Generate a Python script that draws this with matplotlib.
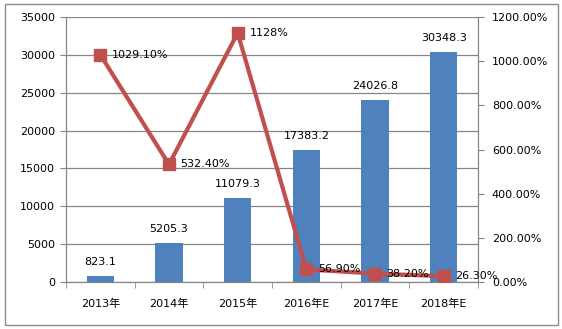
import numpy as np
import matplotlib.pyplot as plt
from matplotlib.patches import Rectangle
from matplotlib.ticker import FuncFormatter

plt.rcParams['font.family'] = ['DejaVu Sans', 'Noto Sans CJK SC']

years = ['2013年', '2014年', '2015年', '2016年E', '2017年E', '2018年E']
scale = [823.1, 5205.3, 11079.3, 17383.2, 24026.8, 30348.3]
growth = [1029.10, 532.40, 1128, 56.90, 38.20, 26.30]
growth_labels = ['1029.10%', '532.40%', '1128%', '56.90%', '38.20%', '26.30%']

bar_color = '#4F81BD'
line_color = '#C0504D'
grid_color = '#868686'


def plot_chart():
    fig = plt.figure(figsize=(5.62, 3.29), dpi=100)
    ax = fig.add_axes([66 / 562, 1 - 282 / 329, (478 - 66) / 562, (282 - 17) / 329])

    # outer frame around the whole chart
    fig.patches.append(Rectangle((5 / 562, 4 / 329), 553 / 562, 321 / 329,
                                 transform=fig.transFigure, fill=False,
                                 edgecolor='#8c8c8c', linewidth=1.0))

    x = np.arange(len(years))
    ax.bar(x, scale, width=0.4, color=bar_color, zorder=2)
    for xi, v in zip(x, scale):
        ax.text(xi, v + 1200, f'{v:g}', ha='center', va='bottom', fontsize=8)

    ax.set_xlim(-0.5, len(years) - 0.5)
    ax.set_ylim(0, 35000)
    ax.set_yticks(np.arange(0, 35001, 5000))
    ax.yaxis.grid(True, color=grid_color, linewidth=0.9, zorder=0)
    ax.set_axisbelow(True)
    ax.set_xticks(x)
    ax.set_xticklabels(years, fontsize=8)
    ax.set_xticks(np.arange(-0.5, len(years), 1), minor=True)
    ax.tick_params(axis='x', which='major', length=0, pad=12)
    ax.tick_params(axis='x', which='minor', length=4, color=grid_color)
    ax.tick_params(axis='y', labelsize=8, length=4, color=grid_color, pad=4)
    for side in ['top']:
        ax.spines[side].set_visible(False)
    for side in ['left', 'bottom', 'right']:
        ax.spines[side].set_color(grid_color)

    ax2 = ax.twinx()
    ax2.plot(x, growth, color=line_color, linewidth=3, marker='s',
             markersize=8, zorder=3)
    for xi, v, lab in zip(x, growth, growth_labels):
        ax2.text(xi + 0.17, v, lab, ha='left', va='center', fontsize=8)
    ax2.set_ylim(0, 1200)
    ax2.set_yticks(np.arange(0, 1201, 200))
    ax2.yaxis.set_major_formatter(FuncFormatter(lambda v, p: f'{v:.2f}%'))
    ax2.tick_params(axis='y', labelsize=8, length=4, color=grid_color, pad=6)
    ax2.spines['top'].set_visible(False)
    for side in ['left', 'bottom', 'right']:
        ax2.spines[side].set_color(grid_color)

    plt.savefig('out.png', dpi=100)


if __name__ == "__main__":
    plot_chart()
